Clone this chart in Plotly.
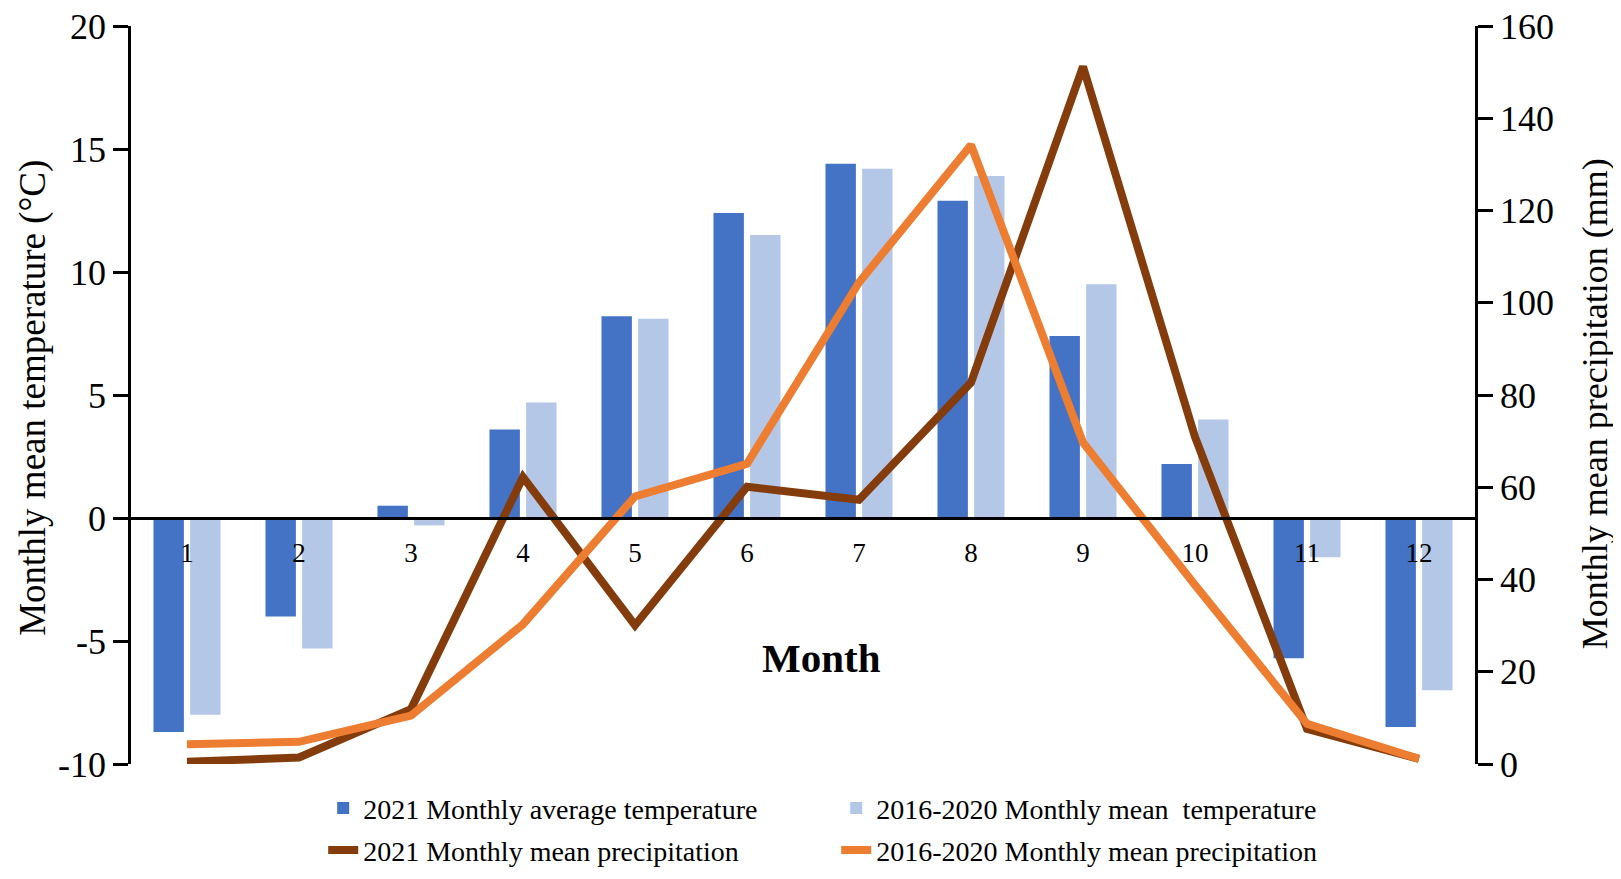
import plotly.graph_objects as go

# months on the category axis
months = [1, 2, 3, 4, 5, 6, 7, 8, 9, 10, 11, 12]

# temperature (°C), left axis
temp_2021 = [-8.7, -4.0, 0.5, 3.6, 8.2, 12.4, 14.4, 12.9, 7.4, 2.2, -5.7, -8.5]
temp_2016_2020 = [-8.0, -5.3, -0.3, 4.7, 8.1, 11.5, 14.2, 13.9, 9.5, 4.0, -1.6, -7.0]

# precipitation (mm), right axis
precip_2021 = [0.5, 1.4, 11.9, 62.2, 30.1, 60.1, 57.3, 82.7, 151.2, 70.9, 7.6, 1.1]
precip_2016_2020 = [4.3, 4.8, 10.5, 30.3, 58.0, 65.1, 104.4, 134.2, 69.7, 38.8, 8.7, 1.1]

# tick labels (plain hyphen for negatives, like the original)
temp_ticks = [-10, -5, 0, 5, 10, 15, 20]
temp_ticktext = ["-10", "-5", "0", "5", "10", "15", "20"]
precip_ticks = [0, 20, 40, 60, 80, 100, 120, 140, 160]

FONT = "Liberation Serif, Times New Roman, serif"

fig = go.Figure()

fig.add_trace(go.Bar(x=months, y=temp_2021, name="2021 Monthly average temperature",
                     marker=dict(color="#4472C4", line=dict(width=0)), legend="legend"))
fig.add_trace(go.Bar(x=months, y=temp_2016_2020, name="2016-2020 Monthly mean  temperature",
                     marker=dict(color="#B4C7E7", line=dict(width=0)), legend="legend"))
fig.add_trace(go.Scatter(x=months, y=precip_2021, name="2021 Monthly mean precipitation",
                         mode="lines", line=dict(color="#843C0C", width=8), yaxis="y2",
                         legend="legend2"))
fig.add_trace(go.Scatter(x=months, y=precip_2016_2020, name="2016-2020 Monthly mean precipitation",
                         mode="lines", line=dict(color="#ED7D31", width=8), yaxis="y2",
                         legend="legend2"))

legend_style = dict(orientation="h", x=0.143, xanchor="left", yanchor="middle",
                    font=dict(size=28, family=FONT), entrywidth=468, entrywidthmode="pixels",
                    bgcolor="rgba(0,0,0,0)")

fig.update_layout(
    width=1621, height=879,
    margin=dict(l=123, r=154, t=18, b=109),
    plot_bgcolor="white", paper_bgcolor="white",
    font=dict(family=FONT, color="black"),
    barmode="group", bargap=0.346, bargroupgap=0.17,
    showlegend=True,
    legend=dict(legend_style, y=-0.06),
    legend2=dict(legend_style, y=-0.117),
    xaxis=dict(range=[0.5, 12.5], tickvals=months, ticktext=[str(m) for m in months],
               anchor="free", position=1 / 3, showline=True, linecolor="black", linewidth=2.5,
               ticks="", showgrid=False, zeroline=False, tickfont=dict(size=27),
               ticklabelstandoff=10, automargin=False),
    yaxis=dict(range=[-10, 20], tickvals=temp_ticks, ticktext=temp_ticktext,
               showline=True, linecolor="black", linewidth=2.5, ticks="outside", ticklen=15,
               tickwidth=2.5, tickcolor="black", showgrid=False, zeroline=False,
               tickfont=dict(size=36), automargin=False, ticklabeloverflow="allow"),
    yaxis2=dict(range=[0, 160], tickvals=precip_ticks, overlaying="y", side="right",
                showline=True, linecolor="black", linewidth=2.5, ticks="outside", ticklen=15,
                tickwidth=2.5, tickcolor="black", showgrid=False, zeroline=False,
                tickfont=dict(size=36), automargin=False, ticklabeloverflow="allow"),
)

# axis titles as annotations so they sit where the original puts them
fig.add_annotation(text="Monthly mean temperature (°C)", xref="paper", yref="paper",
                   x=-0.073, y=0.496, xanchor="center", yanchor="middle",
                   textangle=-90, showarrow=False, font=dict(size=37, family=FONT))
fig.add_annotation(text="Monthly mean precipitation (mm)", xref="paper", yref="paper",
                   x=1.0895, y=0.488, xanchor="center", yanchor="middle",
                   textangle=-90, showarrow=False, font=dict(size=36, family=FONT))
fig.add_annotation(text="<b>Month</b>", xref="paper", yref="paper",
                   x=0.514, y=0.143, xanchor="center", yanchor="middle",
                   showarrow=False, font=dict(size=41, family=FONT))

fig.write_html("out.html")
